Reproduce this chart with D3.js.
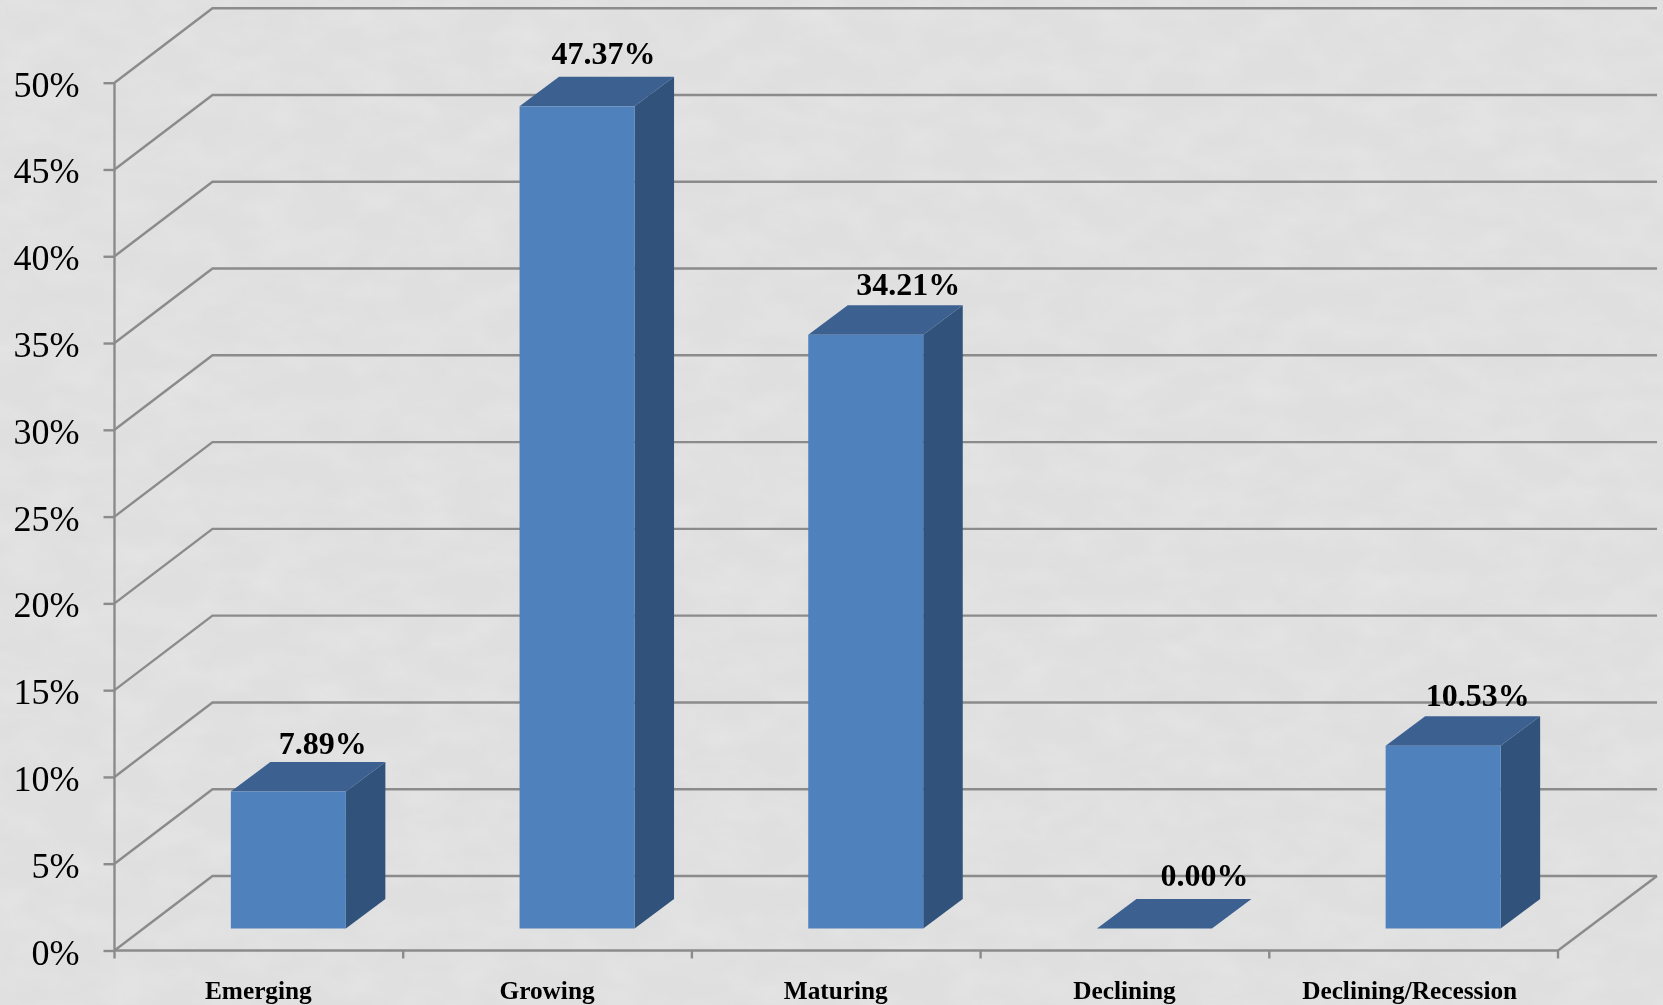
<!DOCTYPE html>
<html>
<head>
<meta charset="utf-8">
<script src="https://cdn.jsdelivr.net/npm/d3@7"></script>
<style>
  html, body { margin: 0; padding: 0; background: #e0e0e0; overflow: hidden; }
  text { font-family: "Liberation Serif", serif; fill: #000; }
  svg { filter: blur(0.45px); }
</style>
</head>
<body>
<div id="chart"></div>
<script>
// chart data
const categories = ["Emerging", "Growing", "Maturing", "Declining", "Declining/Recession"];
const shares = [7.89, 47.37, 34.21, 0, 10.53];
const yTicks = [0, 5, 10, 15, 20, 25, 30, 35, 40, 45, 50];

// value labels do not sit at the same spot on every bar
const labelDx = [34.5, 26.5, 42.5, 50, 34.5];
const labelDy = [-8, -13, -10, -13, -10];
const categoryDx = [-0.5, -0.5, -0.5, -0.5, -4];

const width = 1663, height = 1005;
const gridColor = "#8b8b8b";

// 3d look: how far the back wall and the bar depth are shifted
const wallDx = 98, wallDy = 74.5, wallRight = 1657;
const depthDx = 39.5, depthDy = 29.5;
const barFloorDx = 29.5, barFloorDy = 22;

const x = d3.scaleBand().domain(categories).range([114.5, 1558]);
const y = d3.scaleLinear().domain([0, 50]).range([950.5, 82.7]);
const barWidth = 115;

const svg = d3.select("#chart")
  .append("svg")
  .attr("width", width)
  .attr("height", height)
  .style("display", "block");

// faint mottled backdrop
const noise = svg.append("defs").append("filter")
  .attr("id", "mottle")
  .attr("x", 0).attr("y", 0).attr("width", "100%").attr("height", "100%");
noise.append("feTurbulence")
  .attr("type", "fractalNoise")
  .attr("baseFrequency", "0.02 0.035")
  .attr("numOctaves", 4)
  .attr("seed", 7);
noise.append("feColorMatrix")
  .attr("type", "matrix")
  .attr("values", "0 0 0 0 1  0 0 0 0 1  0 0 0 0 1  0.3 0 0 0 -0.11");

svg.append("rect").attr("width", width).attr("height", height).attr("fill", "#dfdfdf");
svg.append("rect").attr("width", width).attr("height", height).attr("filter", "url(#mottle)");

// walls and floor
const x0 = x.range()[0], xEnd = x.range()[1];
const grid = svg.append("g").attr("fill", "none").attr("stroke", gridColor).attr("stroke-width", 2.4);

grid.selectAll("path.wall")
  .data(yTicks)
  .enter()
  .append("path")
  .attr("class", "wall")
  .attr("d", d => d3.line()([
    [x0, y(d)],
    [x0 + wallDx, y(d) - wallDy],
    [wallRight, y(d) - wallDy]
  ]));

// right edge of the floor
grid.append("path")
  .attr("d", d3.line()([
    [xEnd, y(0)],
    [wallRight, y(0) - wallDy]
  ]));

// y axis
const yAxis = svg.append("g")
  .attr("transform", "translate(" + x0 + ",0)")
  .call(d3.axisLeft(y).tickValues(yTicks).tickFormat(d => d + "%").tickSize(11).tickPadding(24));
yAxis.selectAll("line").attr("stroke", gridColor).attr("stroke-width", 2.4);
yAxis.select(".domain").attr("stroke", gridColor).attr("stroke-width", 2.4).attr("d", "M0," + y(50) + "V" + y(0));
yAxis.selectAll("text")
  .attr("font-size", 36)
  .attr("font-family", "Liberation Serif")
  .attr("dy", 13.5);

// x axis, ticks fall between the categories
const xAxis = svg.append("g")
  .attr("transform", "translate(0," + y(0) + ")")
  .call(d3.axisBottom(x).tickSize(0).tickPadding(25));
xAxis.select(".domain").attr("stroke", gridColor).attr("stroke-width", 2.4).attr("d", "M" + x0 + ",0H" + xEnd);
xAxis.selectAll("text")
  .attr("font-size", 25.3)
  .attr("font-weight", "bold")
  .attr("font-family", "Liberation Serif")
  .attr("dy", 23.5)
  .attr("dx", (d, i) => categoryDx[i])
  .attr("y", 25);
xAxis.selectAll("line.edge")
  .data(categories.map(c => x(c)).concat([xEnd]))
  .enter()
  .append("line")
  .attr("class", "edge")
  .attr("x1", d => d).attr("x2", d => d)
  .attr("y1", 0).attr("y2", 8)
  .attr("stroke", gridColor).attr("stroke-width", 2.4);

// bars: side, top, then front
const bars = svg.append("g")
  .selectAll("g")
  .data(categories)
  .enter()
  .append("g");

const barLeft = c => x(c) + (x.bandwidth() - barWidth) / 2 + barFloorDx;
const barBase = y(0) - barFloorDy;
const barTop = i => barBase - (y(0) - y(shares[i]));

bars.append("path")
  .attr("fill", "#31527b")
  .attr("d", (c, i) => {
    const r = barLeft(c) + barWidth;
    return d3.line()([
      [r, barTop(i)],
      [r + depthDx, barTop(i) - depthDy],
      [r + depthDx, barBase - depthDy],
      [r, barBase]
    ]);
  })
  .attr("display", (c, i) => shares[i] > 0 ? null : "none");

bars.append("path")
  .attr("fill", "#3c6090")
  .attr("d", (c, i) => {
    const l = barLeft(c);
    return d3.line()([
      [l, barTop(i)],
      [l + depthDx, barTop(i) - depthDy],
      [l + barWidth + depthDx, barTop(i) - depthDy],
      [l + barWidth, barTop(i)]
    ]);
  });

bars.append("rect")
  .attr("fill", "#4f81bd")
  .attr("x", c => barLeft(c))
  .attr("y", (c, i) => barTop(i))
  .attr("width", barWidth)
  .attr("height", (c, i) => barBase - barTop(i));

// value labels
bars.append("text")
  .text((c, i) => d3.format(".2f")(shares[i]) + "%")
  .attr("text-anchor", "middle")
  .attr("font-size", 32)
  .attr("font-weight", "bold")
  .attr("x", (c, i) => barLeft(c) + barWidth / 2 + labelDx[i])
  .attr("y", (c, i) => barTop(i) - depthDy + labelDy[i]);
</script>
</body>
</html>
